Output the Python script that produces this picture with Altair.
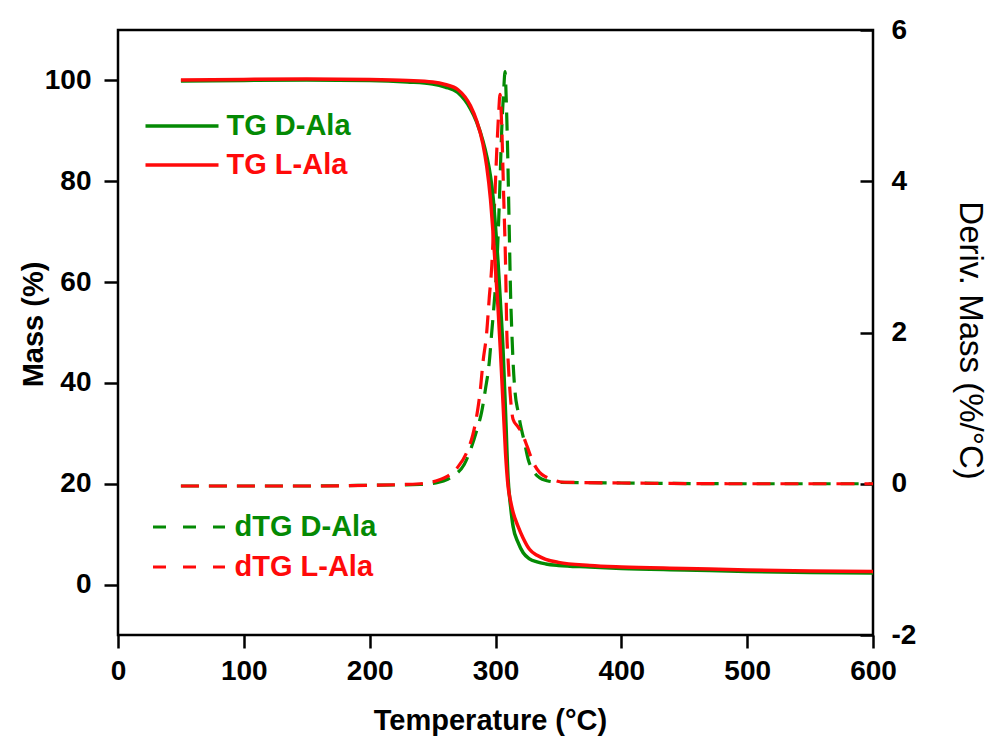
import altair as alt
import pandas as pd

# ---------------- data ----------------
temps_tg = [50, 100, 150, 200, 230, 250, 260, 270, 280, 285, 290, 293, 296, 298,
            300, 302, 304, 306, 308, 310, 312, 314, 318, 322, 327, 333, 340, 350,
            375, 400, 450, 500, 550, 600]
tg_d_ala = [99.9, 100.0, 100.1, 100.0, 99.7, 99.3, 98.7, 97.6, 94.4, 91.8, 88.0, 85.0,
            81.0, 77.0, 71.0, 64.0, 55.5, 46.5, 34.0, 21.0, 15.5, 11.5, 8.3, 6.3, 5.1,
            4.5, 4.1, 3.8, 3.5, 3.2, 2.9, 2.6, 2.4, 2.3]
tg_l_ala = [100.1, 100.2, 100.3, 100.2, 100.0, 99.7, 99.2, 98.2, 95.0, 92.0, 87.4, 83.0,
            76.5, 70.0, 62.5, 55.0, 46.0, 36.0, 26.0, 19.5, 16.5, 14.3, 11.5, 9.2, 7.0,
            5.8, 5.0, 4.4, 3.8, 3.5, 3.2, 2.9, 2.7, 2.6]

temps_dtg_d = [50, 100, 150, 200, 240, 255, 262, 268, 275, 281, 285, 289, 292, 295, 297,
               299, 301, 303, 305, 306.5, 307.6, 308.5, 309.5, 311, 312, 313, 314, 315.6,
               318, 319.6, 323, 326, 330, 335, 341, 350, 400, 500, 600]
dtg_d_ala = [-0.03, -0.03, -0.03, -0.02, -0.01, 0.02, 0.06, 0.12, 0.25, 0.49, 0.7, 0.95,
             1.25, 1.6, 2.0, 2.4, 2.87, 3.7, 4.7, 5.2, 5.45, 5.1, 4.5, 3.3, 2.5, 2.0, 1.6,
             1.2, 0.95, 0.8, 0.55, 0.32, 0.17, 0.08, 0.04, 0.02, 0.01, 0.0, 0.0]
temps_dtg_l = [50, 100, 150, 200, 240, 255, 262, 270, 277, 282, 285, 288, 290, 293, 295,
               297, 299, 301, 302.5, 303.6, 305, 306.5, 308, 309, 310, 311.6, 314, 318,
               321, 325, 330, 335, 340, 346, 355, 400, 500, 600]
dtg_l_ala = [-0.03, -0.03, -0.03, -0.02, 0.0, 0.05, 0.1, 0.22, 0.41, 0.65, 0.89, 1.25,
             1.6, 2.0, 2.45, 2.87, 3.6, 4.4, 4.9, 5.15, 4.7, 3.8, 2.9, 2.0, 1.64, 1.2,
             0.85, 0.75, 0.67, 0.5, 0.28, 0.15, 0.09, 0.05, 0.02, 0.01, 0.0, 0.0]

tg_names = ["TG D-Ala", "TG L-Ala"]
dtg_names = ["dTG D-Ala", "dTG L-Ala"]
x_ticks = [0, 100, 200, 300, 400, 500, 600]
mass_ticks = [0, 20, 40, 60, 80, 100]
deriv_ticks = [-2, 0, 2, 4, 6]

# ---------------- styling ----------------
GREEN = "#048a04"
RED = "#ff0a0a"
FONT = "Liberation Sans"
PLOT_DASH = [18, 10]

tg_df = pd.concat([
    pd.DataFrame({"T": temps_tg, "mass": tg_d_ala, "series": tg_names[0]}),
    pd.DataFrame({"T": temps_tg, "mass": tg_l_ala, "series": tg_names[1]}),
])
dtg_df = pd.concat([
    pd.DataFrame({"T": temps_dtg_d, "deriv": dtg_d_ala, "series": dtg_names[0]}),
    pd.DataFrame({"T": temps_dtg_l, "deriv": dtg_l_ala, "series": dtg_names[1]}),
])

label_color = alt.ExprRef(f"indexof(datum.label, 'D-Ala') >= 0 ? '{GREEN}' : '{RED}'")
hyphen_minus = "datum.value < 0 ? '-' + abs(datum.value) : datum.label"

common_lab = dict(labelFont=FONT, labelFontSize=28, labelFontWeight="bold",
                  labelColor="black", labelFlush=False, labelOverlap=False,
                  titleFont=FONT, titleColor="black", grid=False, domain=False,
                  tickColor="black", tickWidth=2.5)

x_enc = alt.X("T:Q",
              scale=alt.Scale(domain=[0, 600], nice=False, zero=False),
              axis=alt.Axis(orient="bottom", values=x_ticks, title="Temperature (°C)",
                            tickSize=13, labelPadding=9, titleFontSize=29,
                            titleFontWeight="bold", titleX=372, titleY=94,
                            titleBaseline="alphabetic", titleAlign="center",
                            **common_lab))

dtg = alt.Chart(dtg_df).mark_line(strokeWidth=3.2, interpolate="monotone").encode(
    x=x_enc,
    y=alt.Y("deriv:Q",
            scale=alt.Scale(domain=[-2, 6], nice=False, zero=False),
            axis=alt.Axis(orient="right", offset=-13, values=deriv_ticks,
                          labelExpr=hyphen_minus,
                          title="Deriv. Mass (%/°C)", tickSize=13, labelPadding=18,
                          titleFontSize=33, titleFontWeight="normal", titleAngle=90,
                          titleX=99, titleY=310, titleBaseline="alphabetic",
                          titleAlign="center", **common_lab)),
    color=alt.Color("series:N",
                    scale=alt.Scale(domain=dtg_names, range=[GREEN, RED]),
                    legend=alt.Legend(title=None, orient="none", legendX=33.5, legendY=480,
                                      direction="vertical", symbolType="stroke",
                                      symbolSize=72 * 72, symbolStrokeWidth=3,
                                      symbolDash=[13, 17], clipHeight=34, rowPadding=6,
                                      labelOffset=8, labelFont=FONT, labelFontSize=29,
                                      labelFontWeight="bold", labelColor=label_color,
                                      labelLimit=400, padding=0)),
    strokeDash=alt.StrokeDash("series:N",
                              scale=alt.Scale(domain=dtg_names, range=[PLOT_DASH, PLOT_DASH]),
                              legend=None),
)

tg = alt.Chart(tg_df).mark_line(strokeWidth=3.5, interpolate="monotone").encode(
    x=x_enc,
    y=alt.Y("mass:Q",
            scale=alt.Scale(domain=[-10, 110], nice=False, zero=False),
            axis=alt.Axis(orient="left", values=mass_ticks, title="Mass (%)",
                          tickSize=14, labelPadding=13, titleFontSize=29,
                          titleFontWeight="bold", titleAngle=-90, titleX=-76, titleY=294,
                          titleBaseline="alphabetic", titleAlign="center", **common_lab)),
    color=alt.Color("series:N",
                    scale=alt.Scale(domain=tg_names, range=[GREEN, RED]),
                    legend=alt.Legend(title=None, orient="none", legendX=25.5, legendY=79,
                                      direction="vertical", symbolType="stroke",
                                      symbolSize=73 * 73, symbolStrokeWidth=3.5,
                                      clipHeight=34, rowPadding=5, labelOffset=6,
                                      labelFont=FONT, labelFontSize=29,
                                      labelFontWeight="bold", labelColor=label_color,
                                      labelLimit=400, padding=0)),
)

chart = alt.layer(dtg, tg).resolve_scale(
    y="independent", color="independent"
).properties(
    width=755, height=605,
    autosize=alt.AutoSizeParams(type="none"),
    padding={"left": 118, "top": 30, "right": 118, "bottom": 102},
    background="white",
).configure_view(
    stroke="black", strokeWidth=2.5
)

chart.save("out.html", embed_options={"renderer": "svg", "actions": False})
